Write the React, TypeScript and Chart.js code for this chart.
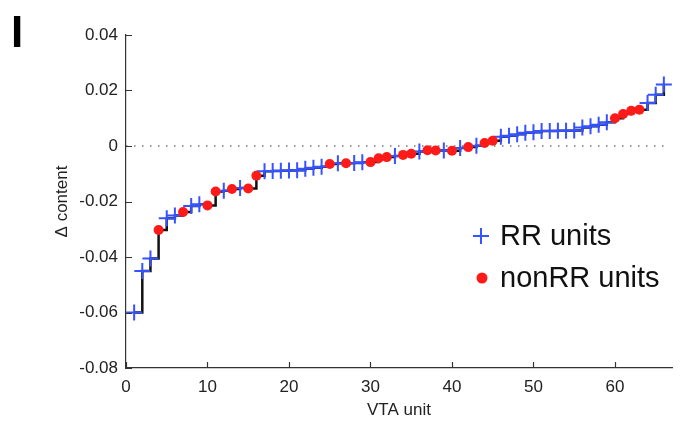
import React, { useEffect, useRef } from "react";
import { Chart, registerables } from "chart.js";

Chart.register(...registerables);

const units: number[] = [
  1, 2, 3, 4, 5, 6, 7, 8, 9, 10, 11, 12, 13, 14, 15, 16, 17, 18, 19, 20, 21, 22,
  23, 24, 25, 26, 27, 28, 29, 30, 31, 32, 33, 34, 35, 36, 37, 38, 39, 40, 41, 42,
  43, 44, 45, 46, 47, 48, 49, 50, 51, 52, 53, 54, 55, 56, 57, 58, 59, 60, 61, 62,
  63, 64, 65, 66,
];

const deltaContent: number[] = [
  -0.06, -0.045, -0.0405, -0.0303, -0.026, -0.025, -0.0238, -0.0216, -0.021, -0.0214,
  -0.0164, -0.0161, -0.0155, -0.0151, -0.0153, -0.0107, -0.0091, -0.009, -0.0089, -0.0088,
  -0.0087, -0.0082, -0.0078, -0.0075, -0.0065, -0.0062, -0.0062, -0.0061, -0.0059, -0.0058,
  -0.0044, -0.004, -0.0036, -0.0032, -0.0028, -0.002, -0.0015, -0.0016, -0.0016, -0.0017,
  -0.0007, -0.0004, 0.0001, 0.0011, 0.0019, 0.0033, 0.0037, 0.0042, 0.0048, 0.005,
  0.0054, 0.0054, 0.0055, 0.0055, 0.0056, 0.0067, 0.0071, 0.0077, 0.0086, 0.01,
  0.0115, 0.0127, 0.0131, 0.0155, 0.0185, 0.0222,
];

// "RR" = RR unit, "N" = nonRR unit
const unitType: string[] = [
  "RR", "RR", "RR", "N", "RR", "RR", "N", "RR", "RR", "N",
  "N", "RR", "N", "RR", "N", "N", "RR", "RR", "RR", "RR",
  "RR", "RR", "RR", "RR", "N", "RR", "N", "RR", "RR", "N",
  "N", "N", "RR", "N", "N", "RR", "N", "N", "RR", "N",
  "RR", "N", "RR", "N", "N", "RR", "RR", "RR", "RR", "RR",
  "RR", "RR", "RR", "RR", "RR", "RR", "RR", "RR", "RR", "N",
  "N", "N", "N", "RR", "RR", "RR",
];

const zeroLineX: number[] = [0, 66.5];
const xTicks: number[] = [0, 10, 20, 30, 40, 50, 60];
const yTicks: number[] = [-0.08, -0.06, -0.04, -0.02, 0, 0.02, 0.04];
const legendLabels: string[] = ["RR units", "nonRR units"];
const panelLabel = "I";

const FONT = "'Liberation Sans', Arial, Helvetica, sans-serif";
const BLUE = "#3553ff";
const RED = "#ff1a1a";

export default function App() {
  const canvasRef = useRef<HTMLCanvasElement | null>(null);

  useEffect(() => {
    document.body.style.margin = "0";
    const canvas = canvasRef.current;
    if (!canvas) return;

    const rrPts = units
      .map((u, i) => ({ x: u, y: deltaContent[i], t: unitType[i] }))
      .filter((p) => p.t === "RR")
      .map((p) => ({ x: p.x, y: p.y }));
    const nPts = units
      .map((u, i) => ({ x: u, y: deltaContent[i], t: unitType[i] }))
      .filter((p) => p.t === "N")
      .map((p) => ({ x: p.x, y: p.y }));
    const stepPts = units.map((u, i) => ({ x: u, y: deltaContent[i] }));
    const zeroPts = zeroLineX.map((x) => ({ x, y: 0 }));

    const decor = {
      id: "decor",
      afterDraw(chart: any) {
        const ctx = chart.ctx;
        const xs = chart.scales.x;
        const ys = chart.scales.y;
        const { left, bottom } = chart.chartArea;
        ctx.save();
        // inward ticks
        ctx.strokeStyle = "#333";
        ctx.lineWidth = 1.2;
        ctx.beginPath();
        xTicks.forEach((v) => {
          const px = Math.round(xs.getPixelForValue(v)) + 0.5;
          ctx.moveTo(px, bottom);
          ctx.lineTo(px, bottom - 6);
        });
        yTicks.forEach((v) => {
          const py = Math.round(ys.getPixelForValue(v)) + 0.5;
          ctx.moveTo(left, py);
          ctx.lineTo(left + 6, py);
        });
        ctx.stroke();

        // legend
        const lx = 481;
        const ly1 = 236;
        const ly2 = 278;
        ctx.strokeStyle = BLUE;
        ctx.lineWidth = 2;
        ctx.beginPath();
        ctx.moveTo(lx - 8, ly1);
        ctx.lineTo(lx + 8, ly1);
        ctx.moveTo(lx, ly1 - 8);
        ctx.lineTo(lx, ly1 + 8);
        ctx.stroke();
        ctx.fillStyle = RED;
        ctx.beginPath();
        ctx.arc(lx + 1, ly2, 5.5, 0, Math.PI * 2);
        ctx.fill();
        ctx.fillStyle = "#111";
        ctx.font = `29px ${FONT}`;
        ctx.textBaseline = "middle";
        ctx.textAlign = "left";
        ctx.fillText(legendLabels[0], 500, ly1 + 1);
        ctx.fillText(legendLabels[1], 500, ly2 + 1);

        // panel letter
        ctx.font = `bold 44px ${FONT}`;
        ctx.textBaseline = "alphabetic";
        ctx.fillStyle = "#000";
        ctx.fillText(panelLabel, 11, 47);
        ctx.restore();
      },
    };

    const chart = new Chart(canvas, {
      type: "scatter",
      data: {
        datasets: [
          {
            label: "RR units",
            data: rrPts,
            pointStyle: "cross",
            pointRadius: 8,
            pointBorderWidth: 2,
            borderColor: BLUE,
            backgroundColor: BLUE,
            showLine: false,
            order: 2,
          } as any,
          {
            label: "nonRR units",
            data: nPts,
            pointStyle: "circle",
            pointRadius: 5,
            pointBorderWidth: 0,
            borderColor: RED,
            backgroundColor: RED,
            showLine: false,
            order: 1,
          } as any,
          {
            label: "step",
            data: stepPts,
            showLine: true,
            stepped: "before",
            borderColor: "#111",
            borderWidth: 2.5,
            pointRadius: 0,
            order: 3,
          } as any,
          {
            label: "zero",
            data: zeroPts,
            showLine: true,
            borderColor: "#777",
            borderWidth: 1.5,
            borderDash: [1.5, 6.5],
            pointRadius: 0,
            order: 4,
          } as any,
        ],
      },
      options: {
        animation: false,
        responsive: false,
        maintainAspectRatio: false,
        layout: { padding: { left: 0, top: 35, right: 22, bottom: 0 } },
        plugins: {
          legend: { display: false },
          tooltip: { enabled: false },
        },
        scales: {
          x: {
            type: "linear",
            min: 0,
            max: 67,
            grid: { display: false, drawTicks: false },
            border: { display: true, color: "#333", width: 1.2 },
            ticks: {
              stepSize: 10,
              includeBounds: false,
              padding: 9,
              color: "#222",
              font: { family: FONT, size: 17 },
              maxRotation: 0,
              callback: (v: any) => String(v),
            },
            title: {
              display: true,
              text: "VTA unit",
              color: "#222",
              font: { family: FONT, size: 17 },
              padding: { top: 0, bottom: 13 },
            },
            afterFit: (s: any) => {
              s.height = 66;
            },
          },
          y: {
            type: "linear",
            min: -0.08,
            max: 0.04,
            grid: { display: false, drawTicks: false },
            border: { display: true, color: "#333", width: 1.2 },
            ticks: {
              stepSize: 0.02,
              padding: 8,
              color: "#222",
              font: { family: FONT, size: 17 },
              callback: (v: any) => {
                const n = Number(v);
                if (Math.abs(n) < 1e-9) return "0";
                return n.toFixed(2);
              },
            },
            title: {
              display: true,
              text: "Δ content",
              color: "#222",
              font: { family: FONT, size: 17 },
              padding: { top: 52, bottom: 0 },
            },
            afterFit: (s: any) => {
              s.width = 126;
            },
          },
        },
      } as any,
      plugins: [decor],
    });

    return () => chart.destroy();
  }, []);

  return (
    <div style={{ width: 694, height: 434, position: "relative", background: "#fff" }}>
      <canvas ref={canvasRef} width={694} height={434} style={{ display: "block" }} />
    </div>
  );
}
